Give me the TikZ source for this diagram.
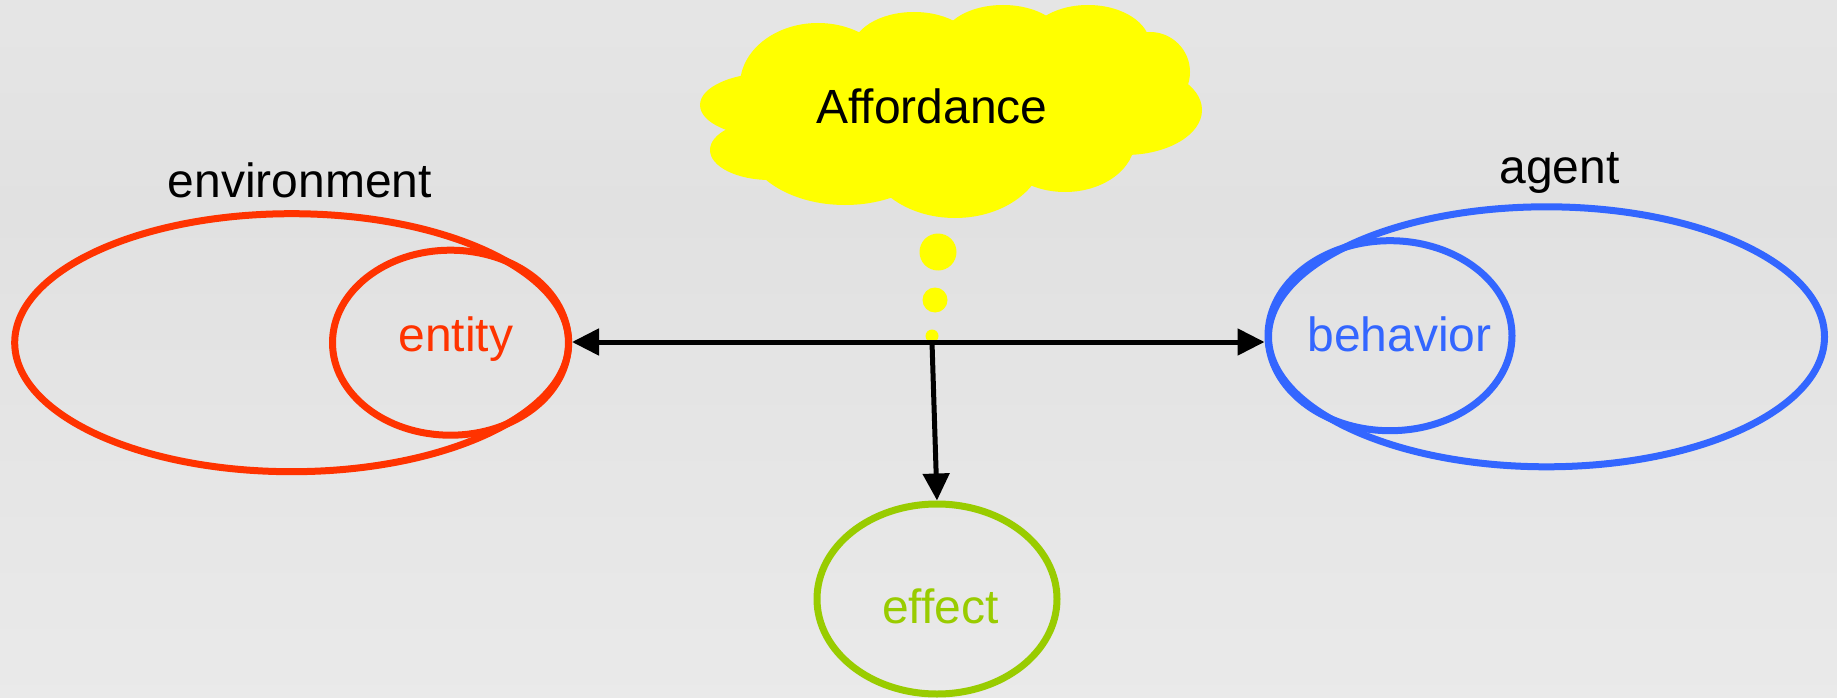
\documentclass[tikz,border=0pt]{standalone}
\usepackage{fontspec}
\setmainfont{Liberation Sans}
\usetikzlibrary{arrows.meta,shapes.geometric}

\definecolor{envred}{HTML}{FF3300}
\definecolor{agentblue}{HTML}{3366FF}
\definecolor{effgreen}{HTML}{99CC00}
\definecolor{cloudyellow}{HTML}{FFFF00}
\definecolor{bgtop}{HTML}{EDEDED}
\definecolor{bgmid}{HTML}{E1E1E1}
\definecolor{bgbot}{HTML}{F0F0F0}
\pgfdeclareverticalshading{backdrop}{100bp}{color(0bp)=(bgbot); color(60bp)=(bgmid); color(100bp)=(bgtop)}

\begin{document}
\begin{tikzpicture}[x=1pt,y=-1pt,
  ring/.style={shape=ellipse, draw, line width=7pt, inner sep=0pt},
  wordtext/.style={anchor=base, inner sep=0pt, font=\fontsize{48}{58}\selectfont},
  bubble/.style={shape=circle, fill=cloudyellow, inner sep=0pt},
  puff/.style={fill=cloudyellow},
  link/.style={line width=5pt, -{Triangle[length=27pt,width=26pt]}}
]
% backdrop
\useasboundingbox (0,0) rectangle (1837,698);
\shade[shading=backdrop] (0,0) rectangle (1837,698);

% thought cloud: union of filled ellipses
\fill[puff] (955,110) ellipse [x radius=210pt, y radius=80pt];
\fill[puff] (818,85) ellipse [x radius=78pt, y radius=62pt];
\fill[puff] (914,50) ellipse [x radius=62pt, y radius=38pt];
\fill[puff] (1003,40) ellipse [x radius=60pt, y radius=35pt];
\fill[puff] (1088,45) ellipse [x radius=62pt, y radius=40pt];
\fill[puff] (1150,72) ellipse [x radius=40pt, y radius=40pt];
\fill[puff] (1125,110) ellipse [x radius=77pt, y radius=45pt];
\fill[puff] (1065,140) ellipse [x radius=70pt, y radius=52pt];
\fill[puff] (955,150) ellipse [x radius=90pt, y radius=68pt];
\fill[puff] (845,140) ellipse [x radius=100pt, y radius=65pt];
\fill[puff] (770,150) ellipse [x radius=60pt, y radius=30pt];
\fill[puff] (770,105) ellipse [x radius=70pt, y radius=32pt];
\node[wordtext] (affordance) at (932,124) {Affordance};

% thought bubbles
\node[bubble, minimum size=37pt] (bubbleA) at (938,252) {};
\node[bubble, minimum size=25pt] (bubbleB) at (935,300) {};
\node[bubble, minimum size=13pt] (bubbleC) at (932,336) {};

% environment and entity
\node[ring, envred, minimum width=554pt, minimum height=258pt] (environment) at (291.7,342.7) {};
\node[ring, envred, minimum width=236pt, minimum height=185pt] (entity) at (450.5,342.7) {};
\node[wordtext] (envlabel) at (300,197) {environment};
\node[wordtext, text=envred] (entitylabel) at (455.8,351) {entity};

% agent and behavior
\node[ring, agentblue, minimum width=556pt, minimum height=260pt] (agent) at (1546.5,336.8) {};
\node[ring, agentblue, minimum width=244pt, minimum height=190pt] (behavior) at (1390,335.7) {};
\node[wordtext] (agentlabel) at (1559.5,183) {agent};
\node[wordtext, text=agentblue] (behaviorlabel) at (1399.5,351) {behavior};

% effect
\node[ring, effgreen, minimum width=240pt, minimum height=190pt] (effect) at (937,599) {};
\node[wordtext, text=effgreen] (effectlabel) at (940.5,623) {effect};

% connectors from the hub under the bubbles
\coordinate (hub) at (932,342);
\draw[link] (hub) -- (entity.east |- hub);
\draw[link] (hub) -- (behavior.west |- hub);
\draw[link] (hub) -- (effect.north);
\end{tikzpicture}
\end{document}
